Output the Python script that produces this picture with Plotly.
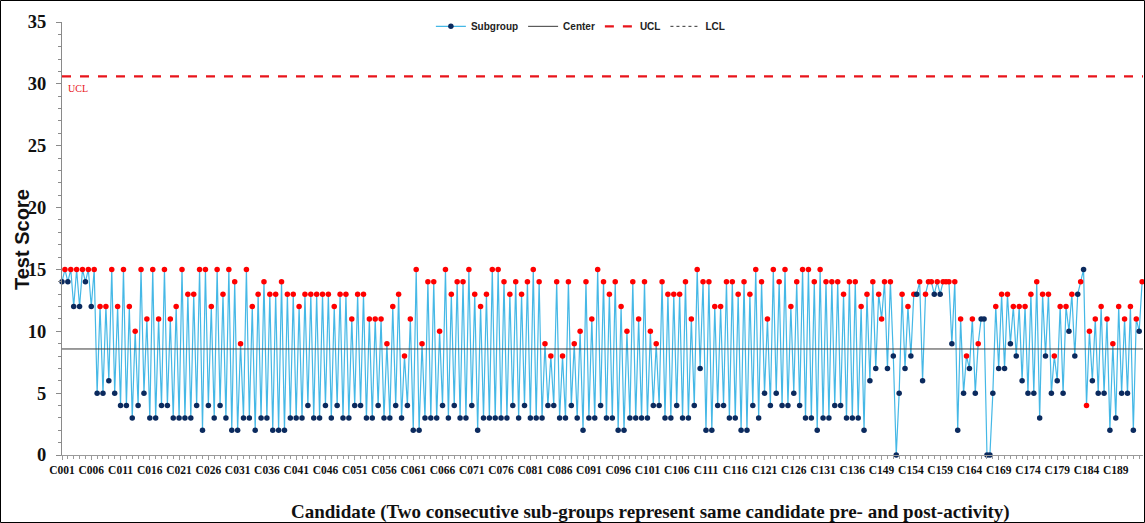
import plotly.graph_objects as go

# Test scores per subgroup (two consecutive subgroups = same candidate pre/post)
scores = [
    14, 15, 14, 15, 12, 15, 12, 15, 14, 15,
    12, 15, 5, 12, 5, 12, 6, 15, 5, 12,
    4, 15, 4, 12, 3, 10, 4, 15, 5, 11,
    3, 15, 3, 11, 4, 15, 4, 11, 3, 12,
    3, 15, 3, 13, 3, 13, 4, 15, 2, 15,
    4, 12, 3, 15, 4, 13, 3, 15, 2, 14,
    2, 9, 3, 15, 3, 12, 2, 13, 3, 14,
    3, 13, 2, 13, 2, 14, 2, 13, 3, 13,
    3, 12, 3, 13, 4, 13, 3, 13, 3, 13,
    4, 13, 3, 12, 4, 13, 3, 13, 3, 11,
    4, 13, 4, 13, 3, 11, 3, 11, 4, 11,
    3, 9, 3, 12, 4, 13, 3, 8, 4, 11,
    2, 15, 2, 9, 3, 14, 3, 14, 3, 10,
    4, 15, 3, 13, 4, 14, 3, 14, 3, 15,
    4, 13, 2, 12, 3, 13, 3, 15, 3, 15,
    3, 14, 3, 13, 4, 14, 3, 13, 4, 14,
    3, 15, 3, 14, 3, 9, 4, 8, 4, 14,
    3, 8, 3, 14, 4, 9, 3, 10, 2, 14,
    3, 11, 3, 15, 4, 14, 3, 13, 3, 14,
    2, 12, 2, 10, 3, 14, 3, 11, 3, 14,
    3, 10, 4, 9, 4, 14, 3, 13, 3, 13,
    4, 13, 3, 14, 3, 11, 4, 15, 7, 14,
    2, 14, 2, 12, 4, 12, 4, 14, 3, 14,
    3, 13, 2, 14, 2, 13, 4, 15, 3, 14,
    5, 11, 4, 15, 5, 14, 4, 15, 4, 12,
    5, 14, 4, 15, 3, 15, 3, 14, 2, 15,
    3, 14, 3, 14, 4, 14, 4, 13, 3, 14,
    3, 14, 3, 12, 2, 13, 6, 14, 7, 13,
    11, 14, 7, 14, 8, 0, 5, 13, 7, 12,
    8, 13, 13, 14, 6, 13, 14, 14, 13, 14,
    13, 14, 14, 14, 9, 14, 2, 11, 5, 8,
    7, 11, 5, 9, 11, 11, 0, 0, 5, 12,
    7, 13, 7, 13, 9, 12, 8, 12, 6, 12,
    5, 13, 5, 14, 3, 13, 8, 13, 5, 8,
    6, 12, 5, 12, 10, 13, 8, 13, 14, 15,
    4, 10, 6, 11, 5, 12, 5, 11, 2, 9,
    3, 12, 5, 11, 5, 12, 2, 11, 10, 14,
]

# D = pre-activity subgroup (navy marker), R = post-activity subgroup (red marker)
phase_rows = [
    "DRDRDRDRDR", "DRDRDRDRDR", "DRDRDRDRDR", "DRDRDRDRDR", "DRDRDRDRDR",
    "DRDRDRDRDR", "DRDRDRDRDR", "DRDRDRDRDR", "DRDRDRDRDR", "DRDRDRDRDR",
    "DRDRDRDRDR", "DRDRDRDRDR", "DRDRDRDRDR", "DRDRDRDRDR", "DRDRDRDRDR",
    "DRDRDRDRDR", "DRDRDRDRDR", "DRDRDRDRDR", "DRDRDRDRDR", "DRDRDRDRDR",
    "DRDRDRDRDR", "DRDRDRDRDR", "DRDRDRDRDR", "DRDRDRDRDR", "DRDRDRDRDR",
    "DRDRDRDRDR", "DRDRDRDRDR", "DRDRDRDRDR",
    "RRDRDDDRDR", "DRDRDRRRDR", "DRRRDRDRDR", "DRDRDDDDDR",
    "DRDRDRDRDR", "DRDRDRDRDR", "DRDRDRDDRD", "RRDRDRDRDR",
    "DRDRDRDRDR",
]

tick_labels = [
    "C001", "C006", "C011", "C016", "C021", "C026", "C031", "C036", "C041",
    "C046", "C051", "C056", "C061", "C066", "C071", "C076", "C081", "C086",
    "C091", "C096", "C101", "C106", "C111", "C116", "C121", "C126", "C131",
    "C136", "C149", "C154", "C159", "C164", "C169", "C174", "C179", "C184",
    "C189",
]

x_title = "Candidate (Two consecutive sub-groups represent same candidate pre- and post-activity)"
y_title = "Test Score"

center_value = 8.57
ucl_value = 30.6
lcl_value = -13.46

phase = "".join(phase_rows)
x = list(range(len(scores)))
marker_colors = ["#0B2A5E" if p == "D" else "#FF0000" for p in phase]

fig = go.Figure()
fig.add_trace(go.Scatter(
    x=x, y=scores, mode="lines+markers", name="Subgroup",
    line=dict(color="#45B8E6", width=1.2),
    marker=dict(color=marker_colors, size=5.5, line=dict(width=0)),
    cliponaxis=False,
))
fig.add_trace(go.Scatter(
    x=[x[0], x[-1] + 0.4], y=[center_value, center_value], mode="lines",
    name="Center", line=dict(color="#3A3A3A", width=1),
))
fig.add_trace(go.Scatter(
    x=[x[0], x[-1] + 0.4], y=[ucl_value, ucl_value], mode="lines",
    name="UCL", line=dict(color="#E8141B", width=2.2, dash="dash"),
))
fig.add_trace(go.Scatter(
    x=[x[0], x[-1] + 0.4], y=[lcl_value, lcl_value], mode="lines",
    name="LCL", line=dict(color="#333333", width=1, dash="dot"),
))

W, H = 1145, 523
ML, MR, MT, MB = 62, 2, 22, 68
PW, PH = W - ML - MR, H - MT - MB

fig.add_annotation(
    x=1.5, y=ucl_value - 0.35, xref="x", yref="y", text="UCL", showarrow=False,
    xanchor="left", yanchor="top",
    font=dict(family="Liberation Serif", size=10, color="#E8141B"),
)
# axis titles placed as in the reference
fig.add_annotation(
    x=(650 - ML) / PW, y=-(512 - (H - MB)) / PH, xref="paper", yref="paper",
    text=x_title, showarrow=False, xanchor="center", yanchor="middle",
    font=dict(family="Liberation Serif", size=19, color="#111111", weight="bold"),
)
fig.add_annotation(
    x=(22 - ML) / PW, y=((H - MB) - 240) / PH, xref="paper", yref="paper",
    text=y_title, showarrow=False, xanchor="center", yanchor="middle", textangle=-90,
    font=dict(family="Liberation Sans", size=20, color="#111111", weight="bold"),
)

fig.add_shape(
    type="rect", xref="paper", yref="paper",
    x0=(0.5 - ML) / PW, x1=(W - 0.5 - ML) / PW,
    y0=-(MB - 0.5) / PH, y1=1 + (MT - 0.5) / PH,
    line=dict(color="#000000", width=1), fillcolor="rgba(0,0,0,0)", layer="above",
)

fig.update_layout(
    width=W, height=H,
    margin=dict(l=ML, r=MR, t=MT, b=MB),
    plot_bgcolor="white", paper_bgcolor="white",
    showlegend=True,
    legend=dict(
        orientation="h", x=0.48, xanchor="center", y=0.99, yanchor="middle",
        font=dict(family="Liberation Sans", size=10, color="#222222", weight="bold"),
        bgcolor="rgba(0,0,0,0)", itemwidth=30, tracegroupgap=0,
    ),
    xaxis=dict(
        range=[0, len(scores) - 0.7],
        tickmode="array",
        tickvals=[i * 10 for i in range(len(tick_labels))],
        ticktext=tick_labels,
        tickangle=0,
        tickfont=dict(family="Liberation Serif", size=11.5, color="#111111", weight="bold"),
        showline=True, linecolor="#9A9A9A", linewidth=1,
        ticks="outside", ticklen=4, tickcolor="#9A9A9A",
        minor=dict(dtick=2, ticks="outside", ticklen=3, tickcolor="#9A9A9A"),
        showgrid=False, zeroline=False,
        automargin=False,
    ),
    yaxis=dict(
        range=[0, 35], dtick=5,
        tickfont=dict(family="Liberation Serif", size=18.5, color="#111111", weight="bold"),
        showline=True, linecolor="#8A8A8A", linewidth=1,
        ticks="outside", ticklen=5, tickcolor="#8A8A8A",
        minor=dict(dtick=1, ticks="outside", ticklen=3, tickcolor="#8A8A8A"),
        showgrid=False, zeroline=False,
        ticklabelstandoff=6,
        automargin=False,
    ),
)

fig.write_html(
    "out.html",
    config={"displayModeBar": False},
    post_script="document.body.style.margin='0';document.body.style.overflow='hidden';",
)
